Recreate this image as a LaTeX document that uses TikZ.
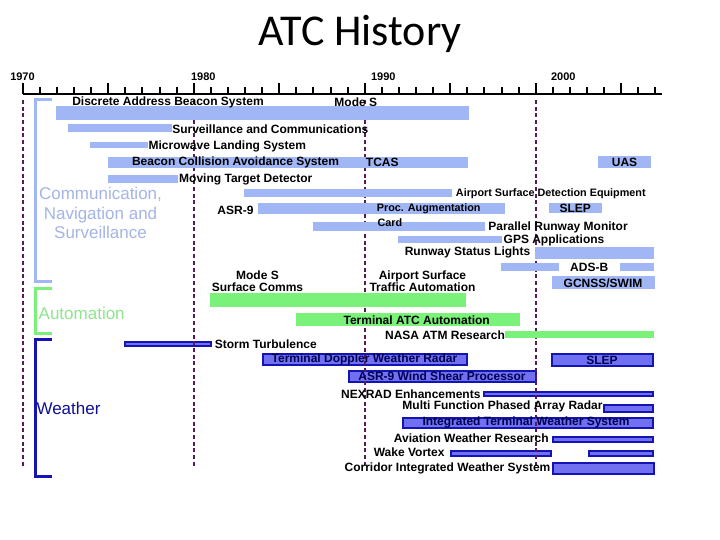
\documentclass[tikz,border=0pt]{standalone}
\usepackage{fontspec}
\setmainfont{Liberation Sans}
\newfontfamily\titlefont{Carlito}
\definecolor{lbar}{RGB}{160,182,245}
\definecolor{gbar}{RGB}{122,242,122}
\definecolor{wfill}{RGB}{112,112,240}
\definecolor{wline}{RGB}{20,20,180}
\definecolor{wintext}{RGB}{0,0,80}
\definecolor{decadecol}{RGB}{90,25,90}
\definecolor{cnstext}{RGB}{165,180,230}
\definecolor{autotext}{RGB}{140,230,140}
\definecolor{wxtext}{RGB}{15,15,150}
\newcommand\lbb[4]{\fill[lbbar] (#1,#2) rectangle (#3,#4);}
\newcommand\grb[4]{\fill[grbar] (#1,#2) rectangle (#3,#4);}
\newcommand\wxb[4]{\draw[wxbar] (#1+1,#2+1) rectangle (#3-1,#4-1);}
\begin{document}
\begin{tikzpicture}[x=1pt,y=-1pt,
  lbbar/.style={fill=lbar},
  grbar/.style={fill=gbar},
  wxbar/.style={fill=wfill,draw=wline,line width=2pt},
  lbl/.style={inner sep=0pt,font=\fontsize{12}{11.7}\selectfont\bfseries,align=center},
  slbl/.style={inner sep=0pt,font=\fontsize{10.8}{11}\selectfont\bfseries},
  yearlbl/.style={inner sep=0pt,font=\fontsize{11}{12}\selectfont\bfseries},
  catlbl/.style={inner sep=0pt,font=\fontsize{17}{19.2}\selectfont,align=center},
  decadeline/.style={draw=decadecol,line width=2pt,dash pattern=on 4pt off 2.7pt},
  bracket/.style={line width=3pt},
  axisline/.style={line width=2pt,draw=black}
]
\useasboundingbox (0,0) rectangle (720,540);
\fill[white] (0,0) rectangle (720,540);

% title
\node[anchor=base,inner sep=0pt,font=\titlefont\fontsize{44}{48}\selectfont] (title) at (360,46) {ATC History};

% weather bars (below decade lines)
\wxb{124}{340.7}{211.7}{346.7}
\wxb{261.7}{352.7}{468.3}{365.7}
\wxb{551}{353.3}{654}{366.7}
\wxb{347.7}{370}{536.7}{383.3}
\wxb{483.3}{390.7}{654}{397.3}
\wxb{603.3}{404.3}{654}{412.7}
\wxb{401.7}{416.7}{654}{429.3}
\wxb{552.3}{436}{654}{443.3}
\wxb{450}{450}{551.7}{456.7}
\wxb{587.7}{450}{654}{456.7}
\wxb{552.3}{462.3}{655}{475}

% decade lines
\foreach \dx in {22.7,193.7,364.7,535.7}
  \draw[decadeline] (\dx,100) -- (\dx,468.3);

% light blue bars
\lbb{56}{106.5}{469}{120}
\lbb{68.3}{124.3}{171.7}{131.7}
\lbb{90}{141.7}{148.3}{148.3}
\lbb{108.3}{156.7}{468.3}{168.3}
\lbb{598.3}{155.7}{650.7}{168.3}
\lbb{108.3}{175}{178.3}{183.3}
\lbb{244}{189.3}{451.7}{196.7}
\lbb{258.3}{202.7}{505}{214.3}
\lbb{549}{202.7}{601.7}{213.3}
\lbb{313.3}{222.3}{485}{230.7}
\lbb{398.3}{236}{501.7}{242.7}
\lbb{535}{246.7}{654}{259.3}
\lbb{501}{263.3}{559.3}{270.7}
\lbb{620}{263.3}{654}{270.7}
\lbb{552.3}{276}{655}{289.3}
% green bars
\grb{210}{293.3}{466}{306.7}
\grb{296}{313.3}{520}{325.7}
\grb{505}{331}{654}{338.3}

% axis
\draw[axisline] (22.7,94.3) -- (662,94.3);
\foreach \i in {0,...,37}{
  \pgfmathsetmacro\tx{22.7+17.1*\i}
  \pgfmathtruncatemacro\r{mod(\i,5)}
  \ifnum\r=0
    \draw[axisline] (\tx,94.3) -- (\tx,82.7);
  \else
    \draw[axisline] (\tx,94.3) -- (\tx,87.3);
  \fi
}
\node[yearlbl] (y1970) at (22.5,76.7) {1970};
\node[yearlbl] (y1980) at (203.3,76.7) {1980};
\node[yearlbl] (y1990) at (383.3,76.7) {1990};
\node[yearlbl] (y2000) at (563.3,76.7) {2000};

% brackets
\draw[bracket,draw=lbar] (51.7,100) -- (35,100) -- (35,281.7) -- (51.7,281.7);
\draw[bracket,draw=gbar] (51.7,288.3) -- (35,288.3) -- (35,333.3) -- (51.7,333.3);
\draw[bracket,draw=wline] (51.7,339.3) -- (35,339.3) -- (35,476) -- (51.7,476);

\node[catlbl,text=cnstext] (cns) at (100.5,213) {Communication,\\Navigation and\\Surveillance};
\node[catlbl,text=autotext] (auto) at (81.7,313.3) {Automation};
\node[catlbl,text=wxtext] (wx) at (68.5,408.3) {Weather};

% labels
\node[lbl] (dabs) at (168,102) {Discrete Address Beacon System};
\node[lbl] (modes) at (355.8,102) {Mode S};
\node[lbl] (sac) at (270.3,129) {Surveillance and Communications};
\node[lbl] (mls) at (227.3,146) {Microwave Landing System};
\node[lbl] (bcas) at (235.5,162.7) {Beacon Collision Avoidance System};
\node[lbl] (tcas) at (382.3,162.7) {TCAS};
\node[lbl] (uas) at (624.5,162) {UAS};
\node[lbl] (mtd) at (245.8,179) {Moving Target Detector};
\node[slbl] (asde) at (550.8,193.3) {Airport Surface Detection Equipment};
\node[lbl] (asr9) at (235.5,210.7) {ASR-9};
\node[slbl] (proc) at (428.7,208.3) {Proc. Augmentation};
\node[slbl,anchor=west] (card) at (377.3,222.3) {Card};
\node[lbl] (slep1) at (575.3,208) {SLEP};
\node[lbl] (prm) at (558,227.7) {Parallel Runway Monitor};
\node[lbl] (gps) at (554,240.7) {GPS Applications};
\node[lbl] (rsl) at (467.5,252) {Runway Status Lights};
\node[lbl] (adsb) at (589.2,267.7) {ADS-B};
\node[lbl] (gcnss) at (603,283) {GCNSS/SWIM};
\node[lbl] (asta) at (422.5,281) {Airport Surface\\Traffic Automation};
\node[lbl] (mssc) at (257.5,281) {Mode S\\Surface Comms};
\node[lbl] (tatca) at (416.7,320) {Terminal ATC Automation};
\node[lbl] (nasa) at (445,335) {NASA ATM Research};
\node[lbl] (storm) at (265.8,344.3) {Storm Turbulence};
\node[lbl,text=wintext] (tdwr) at (364.5,359) {Terminal Doppler Weather Radar};
\node[lbl,text=wintext] (slep2) at (602,360) {SLEP};
\node[lbl,text=wintext] (wsp) at (442,376.5) {ASR-9 Wind Shear Processor};
\node[lbl] (nexrad) at (410.8,394) {NEXRAD Enhancements};
\node[lbl] (mpar) at (502.5,406.7) {Multi Function Phased Array Radar};
\node[lbl,text=wintext] (itws) at (526,422.7) {Integrated Terminal Weather System};
\node[lbl] (awr) at (471.3,438.3) {Aviation Weather Research};
\node[lbl] (wake) at (409.2,452.7) {Wake Vortex};
\node[lbl] (ciws) at (447.5,468.3) {Corridor Integrated Weather System};
\end{tikzpicture}
\end{document}
